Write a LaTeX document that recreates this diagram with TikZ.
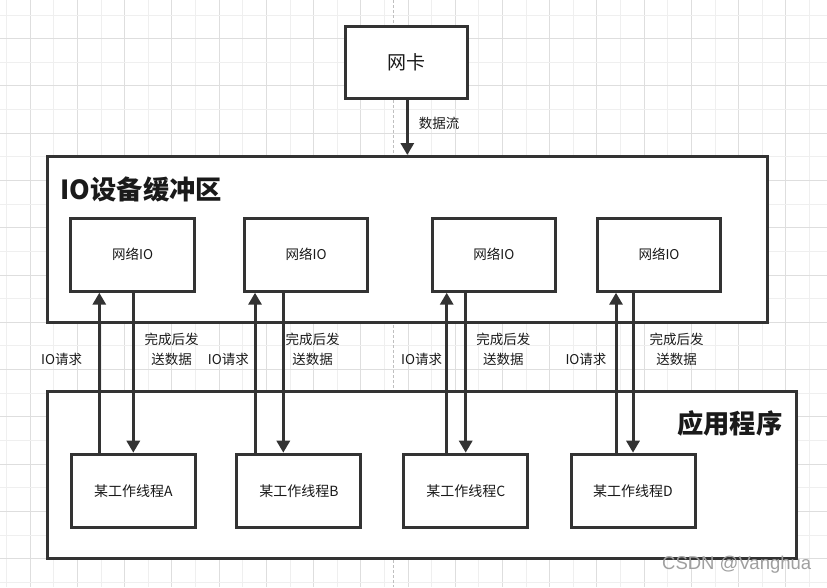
\documentclass[tikz,border=0pt]{standalone}
\usepackage{fontspec}
\setmainfont{Noto Sans CJK SC}
\newfontfamily\wmfont{Liberation Sans}
\usetikzlibrary{arrows.meta}
\definecolor{lc}{HTML}{333333}
\definecolor{tc}{HTML}{1A1A1A}
\definecolor{gl}{HTML}{EFEFEF}
\definecolor{gd}{HTML}{DEDEDE}
\definecolor{wm}{HTML}{A0A0A0}
\tikzset{
  bx/.style={draw=lc, line width=3pt, fill=white, inner sep=0pt, text=tc},
  iobox/.style={bx, minimum width=123.7pt, minimum height=73pt, font=\fontsize{13.5}{16}\selectfont},
  thbox/.style={bx, minimum width=124pt, minimum height=73.6pt, font=\fontsize{14}{16}\selectfont},
  arr/.style={draw=lc, line width=3pt, -{Triangle[width=13pt,length=12pt]}},
  lbl/.style={text=tc, inner sep=0pt, font=\fontsize{13.5}{19.7}\selectfont, align=center},
  ttl/.style={text=tc, inner sep=0pt, font=\fontsize{26.3}{28}\selectfont\bfseries}
}
\begin{document}
\begin{tikzpicture}[x=1pt,y=-1pt]
\useasboundingbox (0,0) rectangle (827,587);
\fill[white] (0,0) rectangle (827,587);
% grid
\foreach \k in {0,...,34}{
  \pgfmathsetmacro\xx{6.7+23.61*\k}
  \ifodd\k \draw[gd, line width=1pt] (\xx,0) -- (\xx,587);
  \else \draw[gl, line width=1pt] (\xx,0) -- (\xx,587); \fi
}
\foreach \k in {0,...,24}{
  \pgfmathsetmacro\yy{15+23.64*\k}
  \ifodd\k \draw[gd, line width=1pt] (0,\yy) -- (827,\yy);
  \else \draw[gl, line width=1pt] (0,\yy) -- (827,\yy); \fi
}
\draw[black!25, line width=1pt, dash pattern=on 3pt off 2pt] (393.3,0) -- (393.3,587);

% big boxes
\node[bx, minimum width=122.3pt, minimum height=72pt, font=\fontsize{19}{22}\selectfont] (nic) at (406.65,62.5) {网卡};
\node[bx, minimum width=720pt, minimum height=165.5pt] (buf) at (407.5,239.25) {};
\node[bx, minimum width=749.3pt, minimum height=166.3pt] (app) at (421.65,474.85) {};
\node[ttl, anchor=west] (buft) at (60.5,189.5) {IO设备缓冲区};
\node[ttl, anchor=east] (appt) at (782.5,423.5) {应用程序};

% IO boxes
\node[iobox] (ia) at (132.65,254.7) {网络IO};
\node[iobox] (ib) at (306.05,254.7) {网络IO};
\node[iobox] (ic) at (493.85,254.7) {网络IO};
\node[iobox] (id) at (659.0,254.7) {网络IO};

% thread boxes
\node[thbox] (ta) at (133.35,491) {某工作线程A};
\node[thbox] (tb) at (298.85,491) {某工作线程B};
\node[thbox] (tc) at (465.8,491) {某工作线程C};
\node[thbox] (td) at (633.0,491) {某工作线程D};

% x positions of connectors
\coordinate (xn) at (407.3,0);
\coordinate (ua) at (99.3,0);  \coordinate (da) at (133.3,0);
\coordinate (ub) at (255,0);   \coordinate (db) at (283.3,0);
\coordinate (uc) at (446.7,0); \coordinate (dc) at (465.7,0);
\coordinate (ud) at (616,0);   \coordinate (dd) at (633,0);

% connectors
\draw[arr] (nic.south -| xn) -- (buf.north -| xn);
\node[lbl] (ln) at (439,123) {数据流};

\draw[arr] (ta.north -| ua) -- (ia.south -| ua);
\draw[arr] (ia.south -| da) -- (ta.north -| da);
\draw[arr] (tb.north -| ub) -- (ib.south -| ub);
\draw[arr] (ib.south -| db) -- (tb.north -| db);
\draw[arr] (tc.north -| uc) -- (ic.south -| uc);
\draw[arr] (ic.south -| dc) -- (tc.north -| dc);
\draw[arr] (td.north -| ud) -- (id.south -| ud);
\draw[arr] (id.south -| dd) -- (td.north -| dd);

% labels
\node[lbl] (qa) at (61.7,359.3) {IO请求};
\node[lbl] (qb) at (228.3,359.3) {IO请求};
\node[lbl] (qc) at (421.7,359.3) {IO请求};
\node[lbl] (qd) at (586,359.3) {IO请求};
\node[lbl] (sa) at (171.7,349.3) {完成后发\\送数据};
\node[lbl] (sb) at (312.7,349.3) {完成后发\\送数据};
\node[lbl] (sc) at (503.3,349.3) {完成后发\\送数据};
\node[lbl] (sd) at (676.7,349.3) {完成后发\\送数据};

% watermark
\node[text=wm, inner sep=0pt, font=\wmfont\fontsize{18.5}{20}\selectfont] (wmk) at (736.7,565) {CSDN @Vanghua};
\end{tikzpicture}
\end{document}
